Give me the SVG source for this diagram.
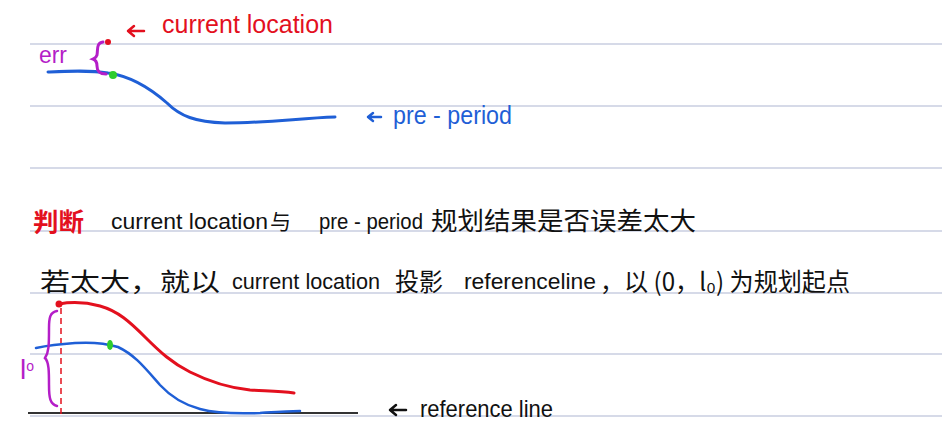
<svg xmlns="http://www.w3.org/2000/svg" width="942" height="447" viewBox="0 0 942 447">
<style>
.rule{stroke:#c9cee0;stroke-width:1.5}
.t{font-family:"Liberation Sans","Noto Sans CJK SC",sans-serif}
.cjk{font-family:"Noto Sans CJK SC","Liberation Sans",sans-serif}
.red{fill:#e3101e}
.blue{fill:#1f5fd6}
.pur{fill:#b41ec8}
.blk{fill:#111}
.arrow{fill:none;stroke-width:2.5;stroke-linecap:round;stroke-linejoin:round}
</style>
<rect width="942" height="447" fill="#ffffff"/>
<g id="rules">
<line class="rule" x1="30" y1="44" x2="942" y2="44"/>
<line class="rule" x1="30" y1="106" x2="942" y2="106"/>
<line class="rule" x1="30" y1="168" x2="942" y2="168"/>
<line class="rule" x1="30" y1="231" x2="942" y2="231"/>
<line class="rule" x1="30" y1="293" x2="942" y2="293"/>
<line class="rule" x1="30" y1="354" x2="942" y2="354"/>
<line class="rule" x1="30" y1="416" x2="942" y2="416"/>
</g>
<g id="top-sketch">
<path d="M48 72 C70 71 90 70 108 73 C130 76 150 88 167 103 C180 116 195 122 225 123 C270 123 300 118 335 117" fill="none" stroke="#1f5fd6" stroke-width="3" stroke-linecap="round"/>
<path d="M103 42 C96 43 98 50 97 55 C96 58 95 58 93 59 C96 60 97 62 97 66 C97 72 100 74 106 74" fill="none" stroke="#b41ec8" stroke-width="3" stroke-linecap="round"/>
<circle cx="108" cy="42" r="3" fill="#e3101e"/>
<circle cx="113" cy="75" r="4" fill="#2ecc2e"/>
<path class="arrow" stroke="#e3101e" d="M144 31 L128 31 M134 26 L128 31 L134 36"/>
<text class="t red" x="162" y="33" font-size="25" textLength="171" lengthAdjust="spacingAndGlyphs">current  location</text>
<text class="t pur" x="39" y="63" font-size="23" textLength="28" lengthAdjust="spacingAndGlyphs">err</text>
<path class="arrow" stroke="#1f5fd6" d="M381 117 L368 117 M373 113 L368 117 L373 121"/>
<text class="t blue" x="393" y="124" font-size="25" textLength="119" lengthAdjust="spacingAndGlyphs">pre - period</text>
</g>
<g id="notes">
<text class="cjk red" x="33" y="231" font-size="25" textLength="51" lengthAdjust="spacingAndGlyphs" font-weight="bold">判断</text>
<text class="t blk" x="111" y="229" font-size="22" textLength="157" lengthAdjust="spacingAndGlyphs">current  location</text>
<text class="cjk blk" x="270" y="229" font-size="21">与</text>
<text class="t blk" x="319" y="229" font-size="22" textLength="104" lengthAdjust="spacingAndGlyphs">pre - period</text>
<text class="cjk blk" x="431" y="230" font-size="25" textLength="265" lengthAdjust="spacingAndGlyphs">规划结果是否误差太大</text>
<text class="cjk blk" x="40" y="291" font-size="25" textLength="180" lengthAdjust="spacingAndGlyphs">若太大，就以</text>
<text class="t blk" x="232" y="289" font-size="22" textLength="148" lengthAdjust="spacingAndGlyphs">current  location</text>
<text class="cjk blk" x="395" y="291" font-size="25" textLength="48" lengthAdjust="spacingAndGlyphs">投影</text>
<text class="t blk" x="464" y="289" font-size="22" textLength="132" lengthAdjust="spacingAndGlyphs">referenceline</text>
<text class="cjk blk" x="600" y="291" font-size="25" textLength="250" lengthAdjust="spacingAndGlyphs">，以 (0，l₀) 为规划起点</text>
</g>
<g id="bottom-sketch">
<line x1="28" y1="413" x2="358" y2="413" stroke="#333" stroke-width="2"/>
<line x1="61" y1="308" x2="61" y2="418" stroke="#e3101e" stroke-width="1.5" stroke-dasharray="6 4"/>
<path d="M59 304 C70 302 85 302 100 306 C118 311 130 322 145 337 C160 352 172 363 190 372 C210 382 230 388 250 390 C265 391 280 391 294 393" fill="none" stroke="#e3101e" stroke-width="3" stroke-linecap="round"/>
<path d="M36 348 C50 345 60 344 75 343 C90 342 105 343 118 347 C135 355 145 368 160 385 C172 398 185 405 200 409 C215 413 235 414 260 413 C275 412 288 411 300 411" fill="none" stroke="#1f5fd6" stroke-width="2.5" stroke-linecap="round"/>
<ellipse cx="110" cy="345" rx="3" ry="5" fill="#2ecc2e"/>
<circle cx="59" cy="304" r="3.5" fill="#e3101e"/>
<path d="M57 311 C50 312 49 318 49 328 C49 345 49 352 45 358 C49 362 49 372 49 385 C49 398 50 404 57 406" fill="none" stroke="#b41ec8" stroke-width="2.5" stroke-linecap="round"/>
<text class="t pur" x="20" y="379" font-size="28">l<tspan font-size="14" dy="-8">o</tspan></text>
<path class="arrow" stroke="#111" d="M406 410 L390 410 M396 405 L390 410 L396 415"/>
<text class="t blk" x="420" y="417" font-size="24" textLength="133" lengthAdjust="spacingAndGlyphs">reference line</text>
</g>
</svg>
